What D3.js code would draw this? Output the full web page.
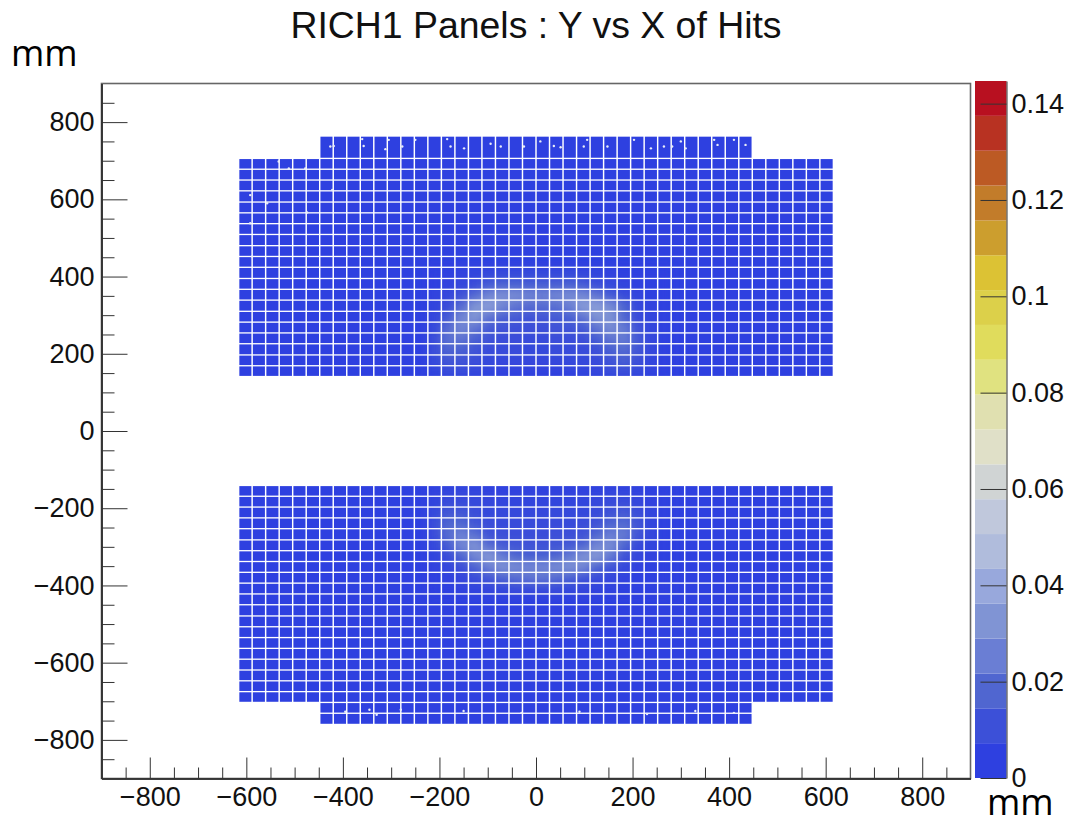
<!DOCTYPE html>
<html>
<head>
    <meta charset="utf-8">
    <title>RICH1 Panels : Y vs X of Hits</title>
    <script src="https://d3js.org/d3.v7.min.js"></script>
    <style>
        html, body {
            margin: 0;
            background: white;
        }

        svg text {
            font-family: "Liberation Sans", Arial, sans-serif;
            fill: #111;
        }

        .unit {
            font-family: "Open Sans", sans-serif !important;
            fill: #000;
        }

        .axis text {
            font-size: 27px;
        }

        .axis line, .axis path {
            stroke: #333;
        }
    </style>
</head>
<body>
    <svg id="svg"></svg>
    <script>
        const title = "RICH1 Panels : Y vs X of Hits";
        const majorTicks = [-800, -600, -400, -200, 0, 200, 400, 600, 800];
        const minorTicks = [-850, -750, -700, -650, -550, -500, -450, -350, -300, -250, -150, -100, -50,
            50, 100, 150, 250, 300, 350, 450, 500, 550, 650, 700, 750, 850];
        const zTicks = [0, 0.02, 0.04, 0.06, 0.08, 0.1, 0.12, 0.14];
        const zMax = 0.1447;

        // colour bar bands, bottom to top
        const palette = ["#2e40e0", "#3c50d8", "#5066d0", "#6a7ed4", "#8094d4", "#98a8dc", "#b0bcdc", "#c0c8dc",
            "#d0d4d4", "#e0e0c8", "#e0e0b0", "#e0e280", "#e0dc5c", "#dcd04a", "#dcc234", "#cc9e2e",
            "#c27c2a", "#bc5a24", "#b83222", "#b81020"];

        // PMT columns: index k covers k..k+1 pitches from x = 0
        const columnsMain = d3.range(-22, 22);
        const columnsWide = d3.range(-16, 16);
        const ringColumns = d3.range(-8, 10);

        // row edges in mm, from the beam plane outwards
        const upperEdges = [141, 169, 197, 226, 254, 282, 310, 339, 367, 395, 424, 452, 480, 509, 537, 565, 593, 622, 650, 678, 706, 764];
        const lowerEdges = [-141, -169, -197, -225, -253, -282, -310, -338, -366, -394, -422, -450, -479, -507, -535, -563, -591, -619, -647, -675, -703, -731, -760];

        // hit density (in 1e-3) read per PMT over the ring, first row nearest the beam plane
        const ringUpper = [
            [6, 9, 9, 7, 6, 5, 5, 5, 5, 5, 5, 6, 7, 9, 10, 8, 5, 3],
            [8, 13, 12, 10, 8, 7, 7, 7, 7, 7, 8, 8, 9, 12, 15, 11, 6, 3],
            [10, 17, 16, 12, 9, 9, 9, 8, 8, 9, 9, 9, 11, 16, 19, 13, 7, 4],
            [10, 21, 22, 16, 12, 10, 10, 9, 9, 10, 10, 11, 15, 22, 24, 14, 7, 4],
            [8, 20, 28, 22, 14, 12, 11, 11, 11, 12, 12, 14, 22, 30, 24, 12, 6, 4],
            [7, 14, 28, 33, 22, 16, 14, 12, 13, 14, 16, 22, 32, 32, 18, 9, 6, 3],
            [6, 10, 20, 33, 36, 28, 22, 20, 20, 21, 26, 35, 36, 30, 18, 8, 5, 3],
            [5, 7, 12, 19, 28, 31, 30, 27, 26, 28, 30, 28, 22, 14, 9, 6, 4, 3],
            [4, 5, 7, 10, 14, 16, 16, 15, 15, 15, 16, 14, 10, 8, 6, 4, 4, 3],
            [4, 4, 5, 6, 7, 8, 8, 8, 8, 8, 8, 7, 6, 5, 4, 4, 3, 3]
        ];
        const ringLower = [
            [5, 6, 7, 6, 5, 5, 5, 5, 5, 5, 5, 5, 5, 6, 6, 5, 4, 3],
            [6, 9, 9, 8, 7, 6, 6, 6, 6, 6, 6, 6, 7, 9, 9, 7, 5, 3],
            [8, 13, 13, 10, 8, 8, 8, 7, 7, 8, 8, 8, 9, 12, 14, 10, 6, 3],
            [10, 18, 18, 13, 10, 9, 9, 9, 9, 9, 9, 10, 12, 17, 19, 13, 6, 4],
            [10, 20, 26, 20, 12, 11, 10, 10, 10, 11, 11, 12, 18, 25, 24, 13, 7, 4],
            [8, 15, 28, 32, 20, 14, 13, 12, 12, 13, 14, 18, 28, 30, 18, 9, 6, 3],
            [6, 10, 18, 28, 34, 24, 18, 16, 16, 18, 24, 32, 34, 24, 12, 7, 5, 3],
            [5, 7, 11, 17, 26, 32, 30, 28, 28, 30, 32, 28, 18, 12, 8, 5, 4, 3],
            [4, 5, 7, 10, 13, 17, 20, 22, 22, 20, 16, 12, 9, 7, 5, 4, 3, 3],
            [3, 4, 5, 6, 7, 8, 9, 9, 9, 9, 8, 7, 6, 5, 4, 3, 3, 3]
        ];
        const backgroundHits = 2;

        // isolated hot hits, [x mm, y mm]
        const specks = [[-419, 738], [-426, 737], [-360, 756], [-357, 738], [-312, 730], [-305, 754], [-277, 737],
            [-250, 754], [-184, 756], [-177, 737], [-149, 732], [-94, 744], [-73, 737], [-25, 737], [9, 750],
            [37, 738], [51, 735], [99, 737], [106, 754], [148, 737], [203, 754], [238, 732], [265, 737], [282, 737],
            [300, 750], [310, 732], [376, 741], [369, 754], [410, 754], [434, 741],
            [-478, 680], [-533, 698], [-592, 611], [-474, 566], [-422, 624], [-557, 590], [-512, 680], [-592, 538], [-588, 452],
            [-395, -727], [-330, -735], [-280, -722], [-150, -725], [-30, -730], [90, -727], [230, -733], [330, -725], [410, -730], [-345, -722]];

        const pitch = 28;
        const gapX = 3.0;
        const gapY = 3.4;

        const width = 1071;
        const height = 818;
        const frame = {left: 101.5, right: 970.5, top: 83.5, bottom: 778.5};

        const svg = d3.select("#svg")
        .attr("width", width)
        .attr("height", height)
        .style("display", "block");

        const x = d3.scaleLinear().domain([-900, 900]).range([frame.left, frame.right]);
        const y = d3.scaleLinear().domain([-900, 900]).range([frame.bottom, frame.top]);
        const z = d3.scaleLinear().domain([0, zMax]).range([778, 81]);

        const bandSize = zMax / palette.length;
        const color = d3.scaleLinear()
        .domain(palette.map((_, i) => (i + 0.5) * bandSize))
        .range(palette)
        .clamp(true);

        function hitsAt(table, column, row) {
            const i = ringColumns.indexOf(column);
            if (i < 0 || row >= table.length) return backgroundHits;
            return table[row][i];
        }

        function panelCells(edges, table) {
            const cells = [];
            d3.pairs(edges).forEach(([y0, y1], row) => {
                (row < 20 ? columnsMain : columnsWide).forEach(column => {
                    cells.push({
                        x0: column * pitch,
                        x1: (column + 1) * pitch,
                        y0: Math.min(y0, y1),
                        y1: Math.max(y0, y1),
                        hits: hitsAt(table, column, row) / 1000
                    });
                });
            });
            return cells;
        }

        const cells = panelCells(upperEdges, ringUpper).concat(panelCells(lowerEdges, ringLower));

        const defs = svg.append("defs");

        function addBlur(id, amount) {
            defs.append("filter")
            .attr("id", id)
            .attr("x", "-5%").attr("y", "-5%").attr("width", "110%").attr("height", "110%")
            .append("feGaussianBlur")
            .attr("stdDeviation", amount);
        }
        addBlur("soft", 0.35);
        addBlur("ring", 4);

        // the PMT outlines cut the grid out of the colour layer
        const mask = defs.append("mask")
        .attr("id", "pmts")
        .attr("maskUnits", "userSpaceOnUse")
        .attr("x", 0).attr("y", 0).attr("width", width).attr("height", height)
        .append("g")
        .attr("filter", "url(#soft)");

        mask.selectAll("rect")
        .data(cells)
        .enter()
        .append("rect")
        .attr("x", d => x(d.x0 + gapX / 2))
        .attr("width", d => x(d.x1 - gapX / 2) - x(d.x0 + gapX / 2))
        .attr("y", d => y(d.y1 - gapY / 2))
        .attr("height", d => y(d.y0 + gapY / 2) - y(d.y1 - gapY / 2))
        .attr("fill", "white");

        const heat = svg.append("g").attr("mask", "url(#pmts)");

        heat.append("g")
        .selectAll("rect")
        .data(cells)
        .enter()
        .append("rect")
        .attr("x", d => x(d.x0))
        .attr("width", d => x(d.x1) - x(d.x0) + 0.5)
        .attr("y", d => y(d.y1))
        .attr("height", d => y(d.y0) - y(d.y1) + 0.5)
        .attr("fill", palette[0]);

        // hits spread smoothly over the tubes, only where above background
        heat.append("g")
        .attr("filter", "url(#ring)")
        .selectAll("rect")
        .data(cells.filter(d => d.hits * 1000 > backgroundHits))
        .enter()
        .append("rect")
        .attr("x", d => x(d.x0))
        .attr("width", d => x(d.x1) - x(d.x0) + 0.5)
        .attr("y", d => y(d.y1))
        .attr("height", d => y(d.y0) - y(d.y1) + 0.5)
        .attr("fill", d => color(d.hits));

        svg.append("g")
        .attr("filter", "url(#soft)")
        .selectAll("circle")
        .data(specks)
        .enter()
        .append("circle")
        .attr("cx", d => x(d[0]))
        .attr("cy", d => y(d[1]))
        .attr("r", 1.2)
        .attr("fill", "#e8ecf8");

        // frame
        svg.append("rect")
        .attr("x", frame.left)
        .attr("y", frame.top)
        .attr("width", frame.right - frame.left)
        .attr("height", frame.bottom - frame.top)
        .attr("fill", "none")
        .attr("stroke", "#666")
        .attr("stroke-width", 1.6);

        // axes, ticks point into the frame
        const xMajor = svg.append("g")
        .attr("class", "axis")
        .attr("transform", `translate(0, ${frame.bottom})`)
        .call(d3.axisBottom(x).tickValues(majorTicks).tickSizeInner(-21).tickSizeOuter(0).tickPadding(8));
        xMajor.selectAll("text").attr("dy", "0.74em");

        svg.append("g")
        .attr("class", "axis")
        .attr("transform", `translate(0, ${frame.bottom})`)
        .call(d3.axisBottom(x).tickValues(minorTicks).tickSizeInner(-11).tickSizeOuter(0).tickFormat(""));

        svg.append("g")
        .attr("class", "axis")
        .attr("transform", `translate(${frame.left}, 0)`)
        .call(d3.axisLeft(y).tickValues(majorTicks).tickSizeInner(-26).tickSizeOuter(0).tickPadding(7));

        svg.append("g")
        .attr("class", "axis")
        .attr("transform", `translate(${frame.left}, 0)`)
        .call(d3.axisLeft(y).tickValues(minorTicks).tickSizeInner(-13).tickSizeOuter(0).tickFormat(""));

        svg.selectAll(".axis .domain").attr("stroke", "#666").attr("stroke-width", 1.6);

        // colour bar
        const barLeft = 975;
        const barRight = 1006.5;

        svg.append("g")
        .selectAll("rect")
        .data(palette)
        .enter()
        .append("rect")
        .attr("x", barLeft)
        .attr("width", barRight - barLeft)
        .attr("y", (_, i) => z((i + 1) * bandSize))
        .attr("height", (_, i) => z(i * bandSize) - z((i + 1) * bandSize))
        .attr("fill", d => d);

        svg.append("g")
        .attr("class", "axis")
        .attr("transform", `translate(${barRight}, 0)`)
        .call(d3.axisRight(z).tickValues(zTicks).tickSizeInner(-26).tickSizeOuter(0).tickPadding(5).tickFormat(d3.format("~g")));

        // title and units
        svg.append("text")
        .attr("x", 536)
        .attr("y", 38)
        .attr("text-anchor", "middle")
        .style("font-size", "37.4px")
        .text(title);

        svg.append("text")
        .attr("class", "unit")
        .attr("x", 11)
        .attr("y", 66)
        .style("font-size", "36px")
        .text("mm");

        svg.append("text")
        .attr("class", "unit")
        .attr("x", 987)
        .attr("y", 815)
        .style("font-size", "36px")
        .text("mm");
    </script>
</body>
</html>
